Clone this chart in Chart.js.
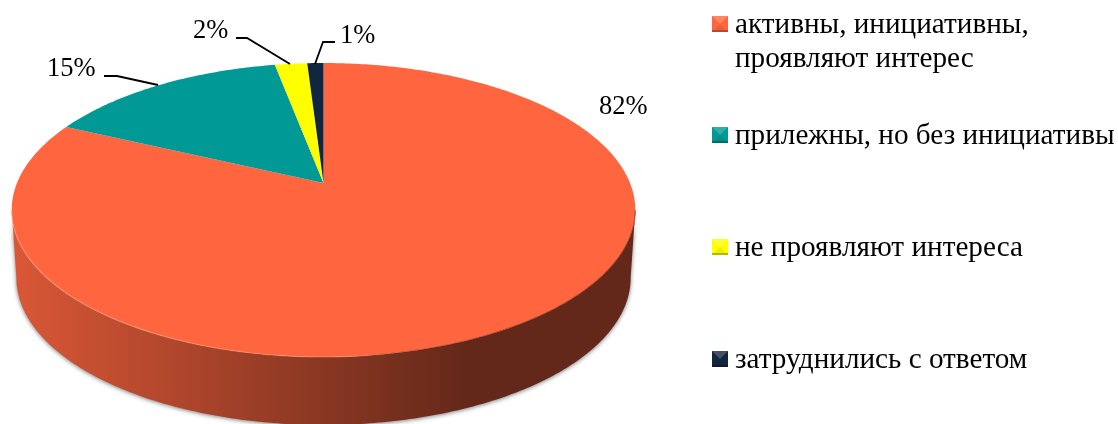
<!DOCTYPE html>
<html>
<head>
<meta charset="utf-8">
<style>
  html, body { margin: 0; padding: 0; background: #fff; overflow: hidden; }
  canvas { display: block; }
</style>
<script src="https://cdn.jsdelivr.net/npm/chart.js@4"></script>
</head>
<body>
<canvas id="pie" width="1118" height="424"></canvas>
<script>
const categories = [
  ["активны, инициативны,", "проявляют интерес"],
  ["прилежны, но без инициативы"],
  ["не проявляют интереса"],
  ["затруднились с ответом"],
];
const values = [82, 15, 2, 1];
const colors = ["#FF6640", "#009995", "#FFFF00", "#12263F"];

// where the labels and legend rows sit on the page
const labelSpots = [[599, 114], [47, 76], [193, 38], [340, 43]];
const leaders = [
  null,
  [[104, 76], [117, 76], [158, 85]],
  [[236, 38], [247, 38], [290, 64]],
  [[335, 42], [323, 42], [315, 64]],
];
const legendTops = [16, 127, 239, 351];
const legendX = 712;

const FONT = '"Liberation Serif", "Times New Roman", serif';

// perspective of the tilted disc
const APEX_Y = 183;
const SCALE_X = 306.5;
const SCALE_Y = 108.4;
const TILT = -0.1837;
const DEPTH = 68;
const BASE_SHRINK = 0.985;

const project = (cx, angle, bottom) => {
  const px = Math.cos(angle);
  const py = Math.sin(angle);
  const w = 1 + TILT * py;
  const k = bottom ? BASE_SHRINK : 1;
  return [cx + SCALE_X * k * px / w, (SCALE_Y * py + APEX_Y) / w + (bottom ? DEPTH : 0)];
};

const traceRim = (ctx, cx, from, to, bottom, first) => {
  const steps = Math.max(2, Math.ceil(Math.abs(to - from) * 80));
  for (let i = 0; i <= steps; i++) {
    const p = project(cx, from + (to - from) * i / steps, bottom);
    if (i === 0 && first) ctx.moveTo(p[0], p[1]);
    else ctx.lineTo(p[0], p[1]);
  }
};

const shade = (hex, f) => {
  const c = Chart.helpers.color(hex).rgb;
  const ch = (v) => Math.max(0, Math.min(255, Math.round(f > 1 ? v + (255 - v) * (f - 1) : v * f)));
  return `rgb(${ch(c.r)},${ch(c.g)},${ch(c.b)})`;
};

const pie3d = {
  id: "pie3d",
  beforeDatasetsDraw(chart) {
    const ctx = chart.ctx;
    const arcs = chart.getDatasetMeta(0).data;
    const wallFrom = Math.asin(-TILT);
    const wallTo = Math.PI - wallFrom;

    // side walls, only the front part shows
    arcs.forEach((arc) => {
      const from = Math.max(arc.startAngle, wallFrom);
      const to = Math.min(arc.endAngle, wallTo);
      if (to <= from) return;
      const base = arc.options.backgroundColor;
      const grad = ctx.createLinearGradient(16, 0, 630, 0);
      grad.addColorStop(0, shade(base, 0.85));
      grad.addColorStop(0.528, shade(base, 0.52));
      grad.addColorStop(0.74, shade(base, 0.39));
      grad.addColorStop(1, shade(base, 0.39));
      ctx.save();
      ctx.shadowColor = "rgba(0,0,0,0.5)";
      ctx.shadowBlur = 4;
      ctx.shadowOffsetX = 0;
      ctx.shadowOffsetY = 1;
      ctx.beginPath();
      traceRim(ctx, arc.x, from, to, false, true);
      traceRim(ctx, arc.x, to, from, true, false);
      ctx.closePath();
      ctx.fillStyle = grad;
      ctx.fill();
      ctx.restore();
    });

    // top face
    arcs.forEach((arc) => {
      const base = arc.options.backgroundColor;
      ctx.beginPath();
      ctx.moveTo(arc.x, APEX_Y);
      traceRim(ctx, arc.x, arc.startAngle, arc.endAngle, false, false);
      ctx.closePath();
      ctx.fillStyle = base;
      ctx.fill();
    });

    // soft bevel where the top meets the wall
    const bevel = ctx.createLinearGradient(16, 0, 630, 0);
    bevel.addColorStop(0, "rgba(255,170,140,0.55)");
    bevel.addColorStop(0.55, "rgba(255,170,140,0.35)");
    bevel.addColorStop(0.62, "rgba(90,35,20,0.35)");
    bevel.addColorStop(1, "rgba(90,35,20,0.55)");
    ctx.beginPath();
    traceRim(ctx, arcs[0].x, wallFrom, wallTo, false, true);
    ctx.strokeStyle = bevel;
    ctx.lineWidth = 1.2;
    ctx.stroke();
    return false;
  },
  afterDraw(chart) {
    const ctx = chart.ctx;
    ctx.save();
    ctx.fillStyle = "#000";
    ctx.textBaseline = "alphabetic";
    ctx.textAlign = "left";

    // value labels with leader lines
    ctx.font = `26.5px ${FONT}`;
    values.forEach((v, i) => {
      ctx.fillText(`${v}%`, labelSpots[i][0], labelSpots[i][1]);
      if (!leaders[i]) return;
      ctx.beginPath();
      leaders[i].forEach((p, j) => (j ? ctx.lineTo(p[0], p[1]) : ctx.moveTo(p[0], p[1])));
      ctx.strokeStyle = "#000";
      ctx.lineWidth = 1.8;
      ctx.stroke();
    });

    // legend, rows are not evenly spaced so it is drawn by hand
    const size = 16;
    categories.forEach((lines, i) => {
      const y = legendTops[i];
      const base = colors[i];
      ctx.fillStyle = base;
      ctx.fillRect(legendX, y, size, size);
      const facet = (pts, col) => {
        ctx.beginPath();
        pts.forEach((p, j) => (j ? ctx.lineTo(legendX + p[0], y + p[1]) : ctx.moveTo(legendX + p[0], y + p[1])));
        ctx.closePath();
        ctx.fillStyle = col;
        ctx.fill();
      };
      const m = size / 2;
      facet([[0, 0], [size, 0], [m, m]], shade(base, 1.2));
      facet([[0, size], [size, size], [m, m]], shade(base, 0.93));
      facet([[0, size - 2], [size, size - 2], [size, size], [0, size]], shade(base, 0.72));
      ctx.fillStyle = "#000";
      ctx.font = `29.2px ${FONT}`;
      lines.forEach((line, j) => ctx.fillText(line, legendX + 23, y + 17 + j * 34));
    });
    ctx.restore();
  },
};

new Chart(document.getElementById("pie"), {
  type: "pie",
  data: {
    labels: categories,
    datasets: [{ data: values, backgroundColor: colors, borderWidth: 0 }],
  },
  options: {
    responsive: false,
    animation: false,
    layout: { padding: { right: 471 } },
    plugins: { legend: { display: false }, tooltip: { enabled: false } },
  },
  plugins: [pie3d],
});
</script>
</body>
</html>
